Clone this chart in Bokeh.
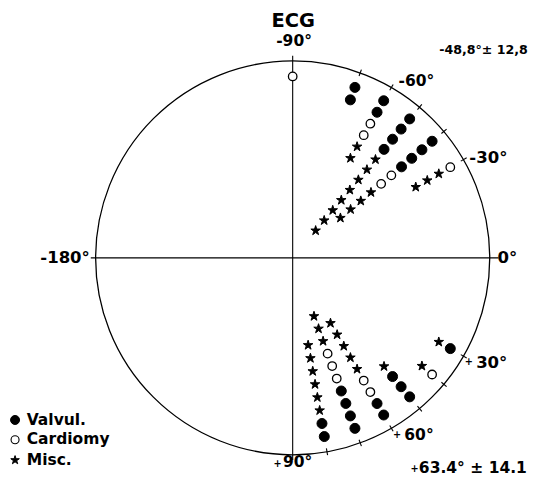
import numpy as np
from bokeh.plotting import figure
from bokeh.models import Range1d
from bokeh.core.properties import value
from bokeh.embed import file_html
from bokeh.resources import INLINE

# ---- data: frontal QRS axis (degrees), number of patients per 10-degree bin ----
upper_angles = [-90, -70, -60, -50, -40, -30]
upper_valvul = [0, 2, 2, 4, 4, 0]
upper_cardio = [1, 0, 2, 0, 2, 1]
upper_misc = [0, 0, 2, 8, 4, 3]

lower_angles = [30, 40, 50, 60, 70, 80]
lower_valvul = [1, 0, 3, 2, 4, 2]
lower_cardio = [0, 1, 0, 2, 3, 0]
lower_misc = [1, 1, 1, 5, 3, 6]

tick_angles = [-70, -60, -50, -40, -30, 30, 40, 50, 60, 70, 80]
title = "ECG"
upper_stat = "-48,8°± 12,8"
lower_stat = "63.4° ± 14.1"
legend_labels = ["Valvul.", "Cardiomy", "Misc."]

# ---- layout (reference-pixel units, centre of circle at 0,0) ----
W, H = 530, 478
CX, CY = 301, 266
R = 203
R0 = 187.5
STEP = 13.7
SC = W / 546.0
FONT = value("DejaVu Sans")


def T(X, Y):
    return X - CX, CY - Y


p = figure(width=W, height=H, x_range=Range1d(-CX, 546 - CX),
           y_range=Range1d(CY - 494, CY), output_backend="svg",
           toolbar_location=None, min_border=0)
p.axis.visible = False
p.grid.visible = False
p.outline_line_color = None
p.background_fill_color = "white"

# circle and cross lines
p.circle(x=[0], y=[0], radius=R, radius_units="data", fill_color=None,
         line_color="black", line_width=1.3)
p.segment(x0=[-R - 5, 0], y0=[0, R + 6], x1=[R + 9, 0], y1=[0, -R - 6],
          line_color="black", line_width=1.1)

# ticks
ta = np.deg2rad(np.array(tick_angles, dtype=float))
p.segment(x0=(R - 3) * np.cos(ta), y0=-(R - 3) * np.sin(ta),
          x1=(R + 4) * np.cos(ta), y1=-(R + 4) * np.sin(ta),
          line_color="black", line_width=1.1)


def place(angles, nv, nc, nm):
    out = {"v": ([], []), "c": ([], []), "m": ([], [])}
    for a, v, c, m in zip(angles, nv, nc, nm):
        kinds = ["v"] * v + ["c"] * c + ["m"] * m
        t = np.deg2rad(a)
        for k, kind in enumerate(kinds):
            r = R0 - STEP * k
            out[kind][0].append(r * np.cos(t))
            out[kind][1].append(-r * np.sin(t))
    return out


up = place(upper_angles, upper_valvul, upper_cardio, upper_misc)
lo = place(lower_angles, lower_valvul, lower_cardio, lower_misc)

for d in (up, lo):
    p.scatter(x=d["v"][0], y=d["v"][1], marker="circle", size=10,
              fill_color="black", line_color="black")
    p.scatter(x=d["c"][0], y=d["c"][1], marker="circle", size=8.5,
              fill_color="white", line_color="black", line_width=1.3)
    p.scatter(x=d["m"][0], y=d["m"][1], marker="star", size=10,
              fill_color="black", line_color="black")


def txt(X, Y, s, size, align="left"):
    x, y = T(X, Y)
    p.text(x=[x], y=[y], text=[s], text_font=FONT, text_font_style="bold",
           text_font_size=f"{size * SC:.1f}px", text_align=align,
           text_baseline="middle", text_color="black")


# title
txt(301.5, 21, title, 20, "center")

# angle labels
txt(284, 42, "-90°", 16)
txt(410, 83, "-60°", 16)
txt(483, 162, "-30°", 17)
txt(512, 266, "0°", 17)
txt(41, 266, "-180°", 17)
txt(490, 374, "30°", 17)
txt(416, 449, "60°", 16)
txt(291, 477, "90°", 16)
for X, Y in [(482.5, 373), (408.5, 448.5), (285.5, 477.5), (426.5, 483)]:
    txt(X, Y, "+", 10, "center")

# statistics
txt(452, 51, upper_stat, 13)
txt(431, 483, lower_stat, 16)

# legend
lx, ly = T(15, 433.5)
p.scatter(x=[lx], y=[ly], marker="circle", size=9, fill_color="black", line_color="black")
lx, ly = T(15, 454)
p.scatter(x=[lx], y=[ly], marker="circle", size=8, fill_color="white",
          line_color="black", line_width=1.1)
lx, ly = T(15, 475)
p.scatter(x=[lx], y=[ly], marker="star", size=9, fill_color="black", line_color="black")
for Y, s in zip([434, 453.5, 474.5], legend_labels):
    txt(27, Y, s, 16)

open("out.html", "w").write(file_html(p, INLINE))
